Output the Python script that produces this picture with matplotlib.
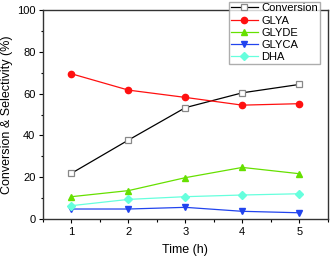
import matplotlib
matplotlib.use("Agg")
import matplotlib.pyplot as plt
from matplotlib.ticker import MultipleLocator

plt.rcParams['font.family'] = ['Liberation Sans', 'DejaVu Sans']

time = [1, 2, 3, 4, 5]
conversion = [21.9, 37.8, 53.3, 60.4, 64.4]
glya = [69.5, 61.7, 58.2, 54.5, 55.2]
glyde = [10.7, 13.6, 19.8, 24.7, 21.7]
glyca = [4.8, 4.8, 5.6, 3.7, 3.0]
dha = [6.4, 9.4, 10.7, 11.5, 12.1]

fig = plt.figure(figsize=(3.31, 2.58), dpi=100)
ax = fig.add_axes([0.130, 0.151, 0.860, 0.810])

ms = 4.5
ax.plot(time, conversion, color='black', lw=0.9, marker='s', ms=ms-0.5,
        mfc='white', mec='#888888', mew=0.9, label='Conversion')
ax.plot(time, glya, color='#ff1010', lw=0.9, marker='o', ms=ms,
        mfc='#ff1010', mec='#ff1010', label='GLYA')
ax.plot(time, glyde, color='#66e000', lw=0.9, marker='^', ms=ms,
        mfc='#66e000', mec='#66e000', label='GLYDE')
ax.plot(time, glyca, color='#2244ee', lw=0.9, marker='v', ms=ms,
        mfc='#2244ee', mec='#2244ee', label='GLYCA')
ax.plot(time, dha, color='#66ffdd', lw=0.9, marker='D', ms=ms-0.8,
        mfc='#66ffdd', mec='#66ffdd', label='DHA')

ax.set_xlim(0.5, 5.5)
ax.set_ylim(0, 100)
ax.xaxis.set_major_locator(MultipleLocator(1))
ax.xaxis.set_minor_locator(MultipleLocator(0.5))
ax.yaxis.set_major_locator(MultipleLocator(20))
ax.yaxis.set_minor_locator(MultipleLocator(10))
ax.tick_params(which='both', direction='out', labelsize=8, width=0.8, pad=2.5)
ax.tick_params(which='major', length=3)
ax.tick_params(which='minor', length=1.8)
for s in ax.spines.values():
    s.set_linewidth(1.0)
    s.set_color('#333333')

ax.set_xlabel('Time (h)', fontsize=9, labelpad=5)
ax.set_ylabel('Conversion & Selectivity (%)', fontsize=9, labelpad=3)

leg = ax.legend(loc='upper left', bbox_to_anchor=(0.655, 1.04), frameon=True,
                fancybox=False, edgecolor='#999999', fontsize=8,
                handlelength=2.4, handletextpad=0.3, borderpad=0.15,
                labelspacing=0.2, borderaxespad=0)
leg.get_frame().set_linewidth(1.0)

fig.savefig('out.png', dpi=100)
